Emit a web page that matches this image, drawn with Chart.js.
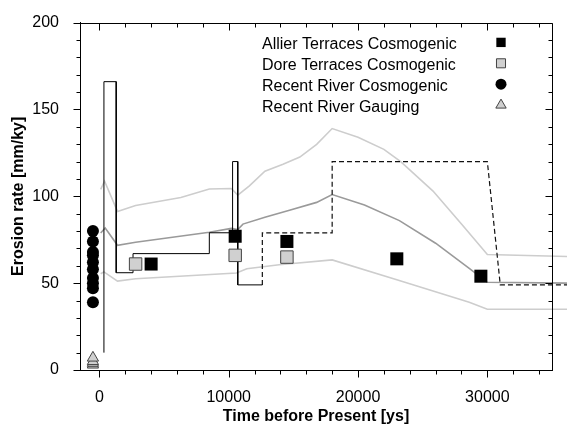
<!DOCTYPE html>
<html><head><meta charset="utf-8">
<script src="https://cdn.jsdelivr.net/npm/chart.js@4.4.1/dist/chart.umd.min.js"></script>
<style>html,body{margin:0;padding:0;background:#fff;}canvas{display:block;}</style>
</head><body>
<canvas id="c" width="567" height="426"></canvas>
<script>
// ---- data ----
const xTicks = [0, 10000, 20000, 30000];
const yTicks = [0, 50, 100, 150, 200];

const allierX = [4000, 10500, 14500, 23000, 29500];
const allierY = [61, 77, 74, 64, 54];
const doreX = [2800, 10500, 14500];
const doreY = [61, 66, 65];
const riverCosmoX = [-500, -500, -500, -500, -500, -500, -500, -500, -500, -500];
const riverCosmoY = [80, 74, 68, 66, 62, 58, 53, 50, 47, 39];
const gaugingX = [-500, -500, -500, -500];
const gaugingY = [3, 4, 5, 7];

const modelX = [350, 350, 1300, 1300, 2600, 2600, 8500, 8500, 10300, 10300, 10700, 10700, 12600];
const modelY = [10, 166, 166, 56, 56, 67, 67, 79, 79, 120, 120, 49, 49];
const modelDashX = [12600, 12600, 18000, 18000, 30000, 31000, 36500];
const modelDashY = [49, 79, 79, 120, 120, 49, 49];

const upperX = [100, 400, 1400, 2800, 6300, 8500, 10200, 10700, 11600, 12800, 14200, 15500, 16800, 18000, 20000, 22000, 23300, 25800, 28000, 30000, 36500];
const upperY = [104, 108.7, 91.3, 94.7, 99.3, 104.2, 104.5, 100.7, 106, 114.4, 118.4, 122.6, 129.9, 139, 134, 127, 120, 103, 84, 66.5, 65.3];
const middleX = [100, 450, 1400, 2800, 8500, 10200, 10700, 11100, 12800, 14700, 16800, 18000, 20500, 23200, 26000, 28600, 30000, 36500];
const middleY = [78.9, 81.8, 71.8, 73.5, 79.3, 81.5, 80.8, 84, 87.9, 92, 96.5, 101, 95, 86, 73, 58.5, 50.5, 50];
const lowerX = [100, 350, 1400, 2800, 10600, 11400, 13900, 18000, 23000, 28600, 30000, 36500];
const lowerY = [55.4, 56.5, 51.2, 52.5, 55.8, 58.3, 60.6, 63.4, 52, 39, 35, 35];

const legendLabels = ['Allier Terraces Cosmogenic', 'Dore Terraces Cosmogenic', 'Recent River Cosmogenic', 'Recent River Gauging'];

const pts = (xs, ys) => xs.map((x, i) => ({x, y: ys[i]}));
const FONT = '"Liberation Sans", Arial, Helvetica, sans-serif';

const markerSets = [
  {label: legendLabels[0], data: pts(allierX, allierY), pointStyle: 'rect', pointRadius: 9.2, backgroundColor: '#000', borderColor: '#000', borderWidth: 0, legendRadius: 6.6},
  {label: legendLabels[1], data: pts(doreX, doreY), pointStyle: 'rect', pointRadius: 8.8, backgroundColor: '#d0d0d0', borderColor: '#444', borderWidth: 1, legendRadius: 6.4},
  {label: legendLabels[2], data: pts(riverCosmoX, riverCosmoY), pointStyle: 'circle', pointRadius: 6, backgroundColor: '#000', borderColor: '#000', borderWidth: 0, legendRadius: 5.5},
  {label: legendLabels[3], data: pts(gaugingX, gaugingY), pointStyle: 'triangle', pointRadius: 6.5, backgroundColor: '#cfcfcf', borderColor: '#444', borderWidth: 1, legendRadius: 6}
].map(d => Object.assign({showLine: false, clip: false, pointHoverRadius: d.pointRadius, isLegend: true}, d));

const lineSets = [
  {label: 'model', data: pts(modelX, modelY), borderColor: '#000', borderWidth: 1},
  {label: 'model (dashed)', data: pts(modelDashX, modelDashY), borderColor: '#111', borderWidth: 1.2, borderDash: [5, 3]},
  {label: 'upper', data: pts(upperX, upperY), borderColor: '#cdcdcd', borderWidth: 1.6},
  {label: 'middle', data: pts(middleX, middleY), borderColor: '#9a9a9a', borderWidth: 1.6},
  {label: 'lower', data: pts(lowerX, lowerY), borderColor: '#cdcdcd', borderWidth: 1.6}
].map(d => Object.assign({showLine: true, pointRadius: 0, tension: 0, clip: false, fill: false}, d));

// ---- plugins ----
const framePlugin = {
  id: 'frame',
  afterDraw(chart) {
    const {ctx, chartArea: a, scales: {x, y}} = chart;
    const L = Math.round(a.left) + 0.5, R = Math.round(a.right) + 0.5;
    const T = Math.round(a.top) + 0.5, B = Math.round(a.bottom) + 0.5;
    ctx.save();
    ctx.strokeStyle = '#000';
    ctx.lineWidth = 1;
    ctx.beginPath();
    ctx.rect(L, T, R - L, B - T);
    // x ticks
    const xs = Math.ceil(x.min / 2000) * 2000;
    for (let v = xs; v <= x.max; v += 2000) {
      const p = Math.round(x.getPixelForValue(v)) + 0.5;
      const len = (v % 10000 === 0) ? 7 : 4;
      ctx.moveTo(p, B); ctx.lineTo(p, B + len);
      ctx.moveTo(p, T); ctx.lineTo(p, T + len);
    }
    for (let v = 0; v <= y.max; v += 10) {
      const p = Math.round(y.getPixelForValue(v)) + 0.5;
      const len = (v % 50 === 0) ? 7 : 4;
      ctx.moveTo(L - len, p); ctx.lineTo(L, p);
      ctx.moveTo(R - len, p); ctx.lineTo(R, p);
    }
    ctx.stroke();
    ctx.restore();
  }
};

const legendPlugin = {
  id: 'customLegend',
  afterDraw(chart) {
    const {ctx, chartArea: a} = chart;
    const items = chart.data.datasets.filter(d => d.isLegend);
    ctx.save();
    ctx.font = '16px ' + FONT;
    ctx.fillStyle = '#000';
    ctx.textAlign = 'left';
    ctx.textBaseline = 'alphabetic';
    items.forEach((d, i) => {
      const base = a.top + 26.3 + i * 20.9;
      ctx.fillStyle = '#000';
      ctx.fillText(d.label, a.left + 182, base);
      ctx.fillStyle = d.backgroundColor;
      ctx.strokeStyle = d.borderColor;
      ctx.lineWidth = d.borderWidth;
      Chart.helpers.drawPoint(ctx, {pointStyle: d.pointStyle, radius: d.legendRadius, rotation: 0, borderWidth: d.borderWidth}, a.left + 421, base - 6.5);
    });
    ctx.restore();
  }
};

new Chart(document.getElementById('c'), {
  type: 'scatter',
  data: {datasets: [...markerSets, ...lineSets]},
  plugins: [framePlugin, legendPlugin],
  options: {
    responsive: false,
    animation: false,
    devicePixelRatio: 1,
    layout: {padding: {top: 21, right: 15, left: 0, bottom: 0}},
    plugins: {legend: {display: false}, tooltip: {enabled: false}},
    scales: {
      x: {
        type: 'linear', min: -1500, max: 35000,
        afterBuildTicks: s => { s.ticks = xTicks.map(v => ({value: v})); },
        afterFit: s => { s.height = 56; },
        grid: {display: false},
        border: {display: true, color: '#000', width: 1},
        ticks: {color: '#000', font: {family: FONT, size: 16}, padding: 10, maxRotation: 0, callback: v => String(v)},
        title: {display: true, text: 'Time before Present [ys]', color: '#000', font: {family: FONT, size: 16, weight: 'bold'}, padding: {top: 0, bottom: 0}}
      },
      y: {
        type: 'linear', min: 0, max: 200,
        afterBuildTicks: s => { s.ticks = yTicks.map(v => ({value: v})); },
        afterFit: s => { s.width = 80; },
        grid: {display: false},
        border: {display: true, color: '#000', width: 1},
        ticks: {color: '#000', font: {family: FONT, size: 16}, padding: 13, callback: v => String(v)},
        title: {display: true, text: 'Erosion rate [mm/ky]', color: '#000', font: {family: FONT, size: 16, weight: 'bold'}, padding: {top: 9, bottom: 0}}
      }
    }
  }
});
</script>
</body></html>
